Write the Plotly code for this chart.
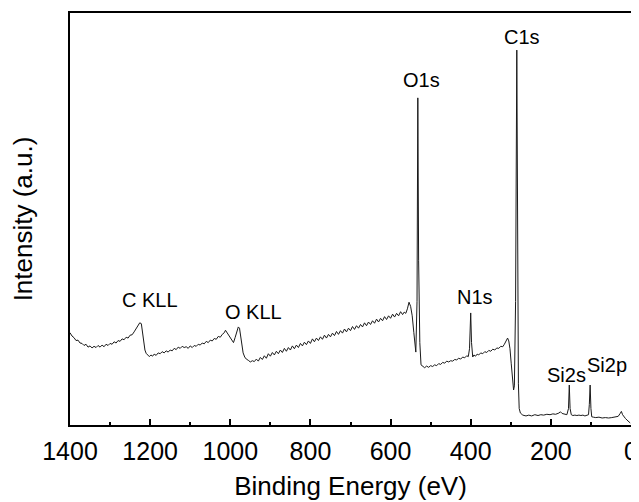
import plotly.graph_objects as go

# Binding energy (eV) and intensity (a.u.)
binding_energy = [
    1400, 1395, 1390, 1385, 1380, 1375, 1370, 1365, 1360, 1355, 1350, 1345, 1340, 1335, 1330,
    1325, 1320, 1315, 1310, 1305, 1300, 1295, 1290, 1285, 1280, 1275, 1270, 1265, 1260, 1255,
    1250, 1245, 1240, 1235, 1230, 1226, 1222, 1219, 1216, 1213, 1210, 1206, 1202, 1198, 1194,
    1190, 1185, 1180, 1175, 1170, 1165, 1160, 1155, 1150, 1145, 1140, 1135, 1130, 1125, 1120,
    1115, 1110, 1105, 1100, 1095, 1090, 1085, 1080, 1075, 1070, 1065, 1060, 1055, 1050, 1045,
    1040, 1035, 1030, 1025, 1020, 1015, 1012, 1008, 1004, 1000, 996, 992, 988, 984, 980,
    977, 974, 971, 968, 964, 960, 955, 950, 945, 940, 935, 930, 925, 920, 915,
    910, 905, 900, 895, 890, 885, 880, 875, 870, 865, 860, 855, 850, 845, 840,
    835, 830, 825, 820, 815, 810, 805, 800, 795, 790, 785, 780, 775, 770, 765,
    760, 755, 750, 745, 740, 735, 730, 725, 720, 715, 710, 705, 700, 695, 690,
    685, 680, 675, 670, 665, 660, 655, 650, 645, 640, 635, 630, 625, 620, 615,
    610, 605, 600, 595, 590, 585, 580, 575, 570, 566, 562, 558, 554, 550, 546,
    542, 539, 537, 534, 532, 530, 527, 524, 520, 515, 510, 505, 500, 495, 490,
    485, 480, 475, 470, 465, 460, 455, 450, 445, 440, 435, 430, 425, 420, 415,
    410, 406, 403, 400, 398, 395, 392, 388, 384, 380, 375, 370, 365, 360, 355,
    350, 345, 340, 335, 330, 325, 320, 316, 312, 308, 305, 302, 299, 296, 293,
    291, 288, 285, 283, 281, 279, 276, 270, 262, 255, 248, 240, 232, 225, 218,
    210, 202, 195, 188, 180, 176, 172, 166, 160, 156, 154, 152, 149, 145, 140,
    135, 130, 125, 120, 115, 110, 106, 104, 102, 100, 98, 94, 88, 80, 72,
    64, 56, 48, 40, 32, 27, 24, 21, 18, 14, 10, 6, 2,
]
intensity = [
    22.4, 21.6, 21.2, 20.5, 20.6, 19.9, 19.8, 19.3, 19.6, 18.9, 19.2, 18.7, 19.1, 18.8, 19.3,
    18.9, 19.4, 19.0, 19.6, 19.3, 19.8, 19.6, 20.2, 19.9, 20.5, 20.3, 20.9, 20.7, 21.3, 21.1,
    21.8, 21.9, 22.6, 23.4, 24.2, 24.8, 24.6, 22.5, 20.0, 18.2, 17.4, 16.9, 16.6, 17.0, 16.7,
    17.2, 16.9, 17.5, 17.3, 17.8, 17.5, 18.0, 17.7, 18.2, 18.0, 18.6, 18.3, 18.9, 18.6, 19.1,
    18.8, 19.0, 18.6, 19.2, 18.8, 19.3, 19.1, 19.6, 19.4, 19.9, 19.7, 20.3, 20.0, 20.6, 20.4,
    21.0, 20.8, 21.5, 21.3, 22.0, 22.4, 23.0, 22.4, 21.5, 21.0, 20.3, 20.0, 21.2, 22.8, 23.8,
    23.5, 21.5, 19.3, 17.5, 16.5, 16.0, 15.7, 15.3, 15.6, 15.4, 16.0, 15.5, 16.4, 15.9, 16.8,
    16.2, 17.3, 16.7, 17.6, 17.0, 17.9, 17.3, 18.2, 17.6, 18.6, 17.9, 18.8, 18.2, 19.2, 18.5,
    19.4, 18.8, 19.8, 19.2, 20.1, 19.5, 20.4, 19.8, 20.9, 20.2, 21.1, 20.5, 21.4, 20.8, 21.8,
    21.1, 22.0, 21.4, 22.3, 21.7, 22.7, 22.0, 22.9, 22.3, 23.3, 22.6, 23.5, 22.9, 23.9, 23.2,
    24.1, 23.5, 24.4, 23.8, 24.8, 24.1, 25.0, 24.4, 25.3, 24.7, 25.7, 25.0, 25.9, 25.3, 26.3,
    25.6, 26.5, 25.9, 26.9, 26.2, 27.1, 26.5, 27.5, 26.8, 27.4, 27.1, 28.2, 29.8, 28.8, 26.5,
    22.5, 18.5, 17.7, 30.0, 79.4, 40.0, 20.0, 14.6, 14.2, 13.9, 14.3, 14.0, 14.4, 14.2, 14.6,
    14.4, 14.9, 14.7, 15.2, 15.0, 15.5, 15.3, 15.6, 15.5, 15.9, 15.8, 16.2, 16.0, 16.5, 16.3,
    16.8, 16.6, 18.5, 27.2, 20.0, 16.5, 17.0, 16.7, 17.2, 17.0, 17.5, 17.3, 17.8, 17.6, 18.1,
    17.9, 18.4, 18.2, 18.7, 18.6, 19.1, 19.0, 19.6, 20.5, 21.1, 20.4, 18.5, 15.0, 11.0, 8.5,
    9.5, 30.0, 91.0, 40.0, 10.0, 4.0, 2.9, 2.4, 2.2, 2.4, 2.2, 2.5, 2.3, 2.5, 2.4,
    2.6, 2.5, 2.7, 2.6, 2.9, 3.2, 2.8, 2.6, 2.5, 4.0, 9.7, 4.0, 2.5, 2.3, 2.4,
    2.3, 2.4, 2.3, 2.4, 2.2, 2.3, 2.5, 5.0, 9.7, 4.0, 2.0, 1.9, 1.8, 1.9, 1.7,
    1.8, 1.7, 1.8, 1.9, 2.1, 2.8, 3.3, 2.5, 2.0, 1.6, 1.2, 0.9, 0.5,
]

peak_labels = ["C1s", "O1s", "N1s", "C KLL", "O KLL", "Si2s", "Si2p"]
peak_label_x = [272, 524, 389, 1200, 943, 162, 60]
peak_label_y = [94.2, 83.7, 31.1, 30.3, 27.4, 12.1, 14.6]

x_ticks = [1400, 1200, 1000, 800, 600, 400, 200, 0]

FONT = "Liberation Sans, Arial, sans-serif"

fig = go.Figure()
fig.add_trace(go.Scatter(
    x=binding_energy, y=intensity, mode="lines",
    line=dict(color="#1a1a1a", width=1),
    showlegend=False, hoverinfo="skip",
))

for t, x, y in zip(peak_labels, peak_label_x, peak_label_y):
    fig.add_annotation(x=x, y=y, text=t, showarrow=False,
                       font=dict(family=FONT, size=20, color="#000"),
                       xanchor="center", yanchor="middle")

# the page body adds an 8px offset, so the figure is 8px smaller than the window
fig.update_layout(
    width=631, height=494,
    margin=dict(l=62, r=8, t=5, b=77),
    paper_bgcolor="white", plot_bgcolor="white",
    font=dict(family=FONT, color="#000"),
)
fig.update_xaxes(
    range=[1400, 0], tickvals=x_ticks, ticktext=[str(v) for v in x_ticks],
    ticks="inside", ticklen=6, tickwidth=1.5, tickcolor="#000",
    minor=dict(dtick=100, ticks="inside", ticklen=3, tickwidth=1.5, tickcolor="#000", tick0=0),
    showline=True, linecolor="#000", linewidth=2, mirror=True,
    showgrid=False, zeroline=False, automargin=False,
    tickfont=dict(family=FONT, size=25, color="#000"),
    title=dict(text="Binding Energy (eV)", font=dict(family=FONT, size=26, color="#000"), standoff=13),
    ticklabelstandoff=3,
)
fig.update_yaxes(
    range=[0, 100], showticklabels=False, ticks="",
    showline=True, linecolor="#000", linewidth=2, mirror=True,
    showgrid=False, zeroline=False, automargin=False,
    title=dict(text="Intensity (a.u.)", font=dict(family=FONT, size=26, color="#000"), standoff=42),
)

fig.write_html("out.html")
